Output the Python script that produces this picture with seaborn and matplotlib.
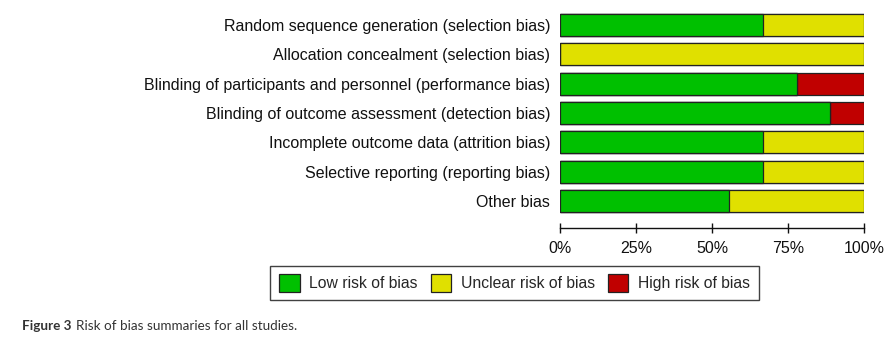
import matplotlib
matplotlib.use("Agg")
import matplotlib.pyplot as plt
from matplotlib.patches import Patch
import seaborn as sns
import pandas as pd
import numpy as np

categories = [
    "Random sequence generation (selection bias)",
    "Allocation concealment (selection bias)",
    "Blinding of participants and personnel (performance bias)",
    "Blinding of outcome assessment (detection bias)",
    "Incomplete outcome data (attrition bias)",
    "Selective reporting (reporting bias)",
    "Other bias",
]
low = [66.7, 0.0, 77.8, 88.9, 66.7, 66.7, 55.6]
unclear = [33.3, 100.0, 0.0, 0.0, 33.3, 33.3, 44.4]
high = [0.0, 0.0, 22.2, 11.1, 0.0, 0.0, 0.0]
legend_labels = ["Low risk of bias", "Unclear risk of bias", "High risk of bias"]
tick_vals = [0, 25, 50, 75, 100]
tick_labels = ["0%", "25%", "50%", "75%", "100%"]

colors = ["#00C000", "#E0E000", "#C00000"]

sns.set_theme(style="white")
plt.rcParams["font.family"] = ["Liberation Sans", "DejaVu Sans"]

df = pd.DataFrame({"cat": categories, "low": low, "unclear": unclear, "high": high})
df["c2"] = df["low"] + df["unclear"]
df["c3"] = df["c2"] + df["high"]

fig = plt.figure(figsize=(8.93, 3.43), dpi=100)
ax = fig.add_axes([560 / 893, 1 - 228 / 343, 304 / 893, (228 - 10.3) / 343])

for col, c in [("c3", colors[2]), ("c2", colors[1]), ("low", colors[0])]:
    sns.barplot(data=df, x=col, y="cat", orient="h", color=c, width=0.75,
                edgecolor="#222222", linewidth=0.9, ax=ax, saturation=1)

ax.set_xlim(0, 100)
ax.set_ylim(6.92, -0.5)
ax.set_xlabel("")
ax.set_ylabel("")
ax.set_xticks(tick_vals)
ax.set_xticklabels(tick_labels, fontsize=11.5, color="#111111")
ax.tick_params(axis="x", bottom=True, direction="inout", length=7, width=1,
               color="#111111", pad=6)
ax.tick_params(axis="y", left=False, length=0, pad=7, labelsize=11.5,
               labelcolor="#111111")
for s in ["top", "right", "left"]:
    ax.spines[s].set_visible(False)
ax.spines["bottom"].set_color("#111111")
ax.spines["bottom"].set_linewidth(1)

handles = [Patch(facecolor=c, edgecolor="#222222", linewidth=0.9) for c in colors]
leg = fig.legend(handles, legend_labels, ncol=3, loc="center",
                 bbox_to_anchor=(514.5 / 893, 1 - 283 / 343), fontsize=11.3,
                 frameon=True, fancybox=False, edgecolor="#111111",
                 handlelength=1.3, handleheight=1.3, handletextpad=0.6,
                 columnspacing=0.85, borderpad=0.55)
leg.get_frame().set_linewidth(1)

t1 = fig.text(22 / 893, 1 - 326 / 343, "Figure 3", fontsize=9.7, fontweight="bold",
              color="#333333", va="center", family=["Lato", "DejaVu Sans"])
fig.canvas.draw()
bb = t1.get_window_extent()
x2 = (bb.x1 + 4) / fig.bbox.width
fig.text(x2, 1 - 326 / 343, "Risk of bias summaries for all studies.",
         fontsize=9.7, color="#333333", va="center", family=["Lato", "DejaVu Sans"])

fig.savefig("out.png", dpi=100)
